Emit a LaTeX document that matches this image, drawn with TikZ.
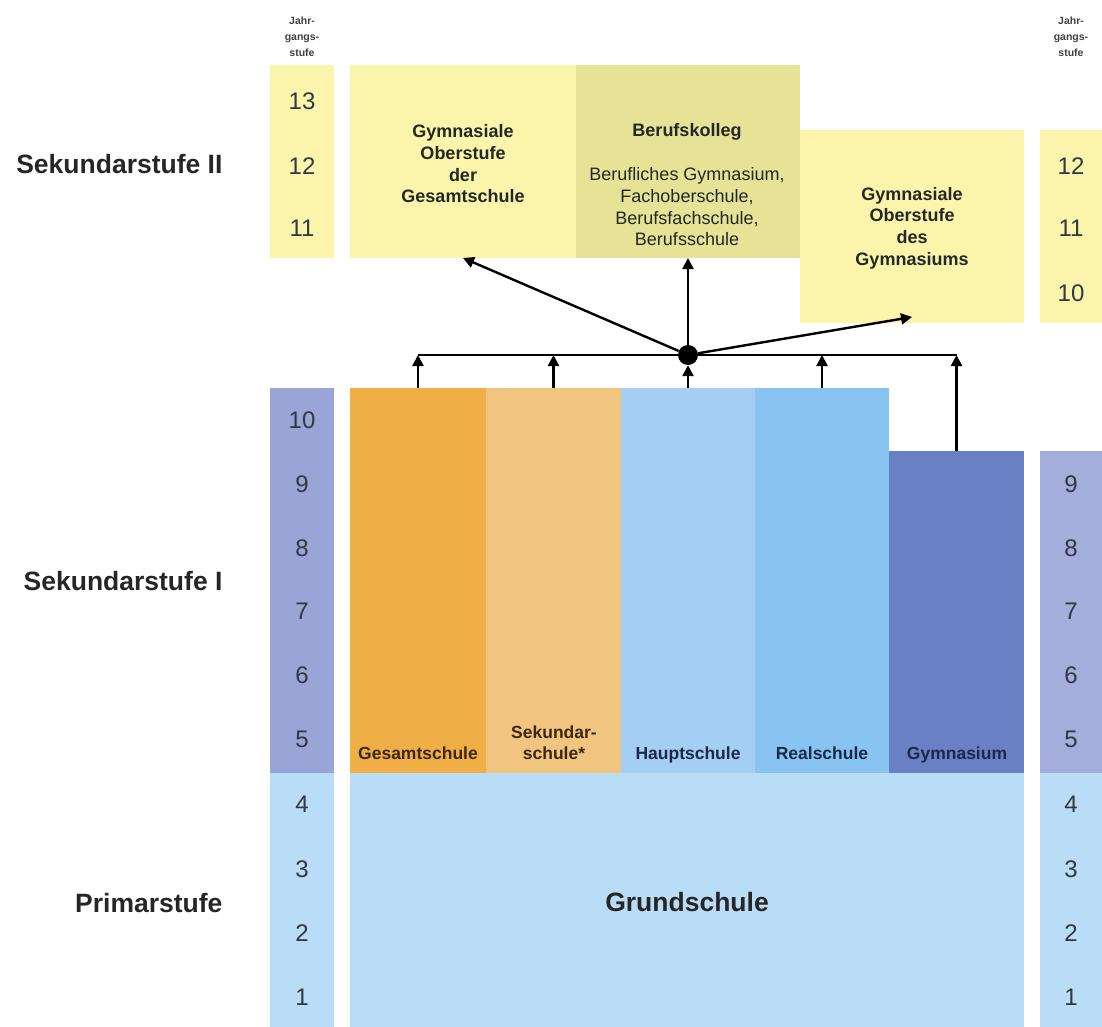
\documentclass[tikz,border=0pt]{standalone}
\usepackage{fontspec}
\setmainfont{Liberation Sans}
\usetikzlibrary{arrows.meta,positioning}

\definecolor{ober}{RGB}{250,245,170}
\definecolor{kolleg}{RGB}{230,226,150}
\definecolor{mittel}{RGB}{155,164,214}
\definecolor{primar}{RGB}{185,221,247}
\definecolor{gesamtfarbe}{RGB}{240,174,70}
\definecolor{sekfarbe}{RGB}{241,196,128}
\definecolor{hauptfarbe}{RGB}{165,206,245}
\definecolor{realfarbe}{RGB}{136,195,242}
\definecolor{gymfarbe}{RGB}{106,128,196}
\definecolor{ziffer}{RGB}{50,55,70}
\definecolor{braun}{RGB}{60,40,15}
\definecolor{marine}{RGB}{25,40,75}

\begin{document}
\begin{tikzpicture}[x=1pt,y=-1pt,
    feld/.style={anchor=north west, inner sep=0pt, outer sep=0pt},
    zahl/.style={font=\fontsize{24}{24}\selectfont, text=ziffer},
    stufe/.style={font=\bfseries\fontsize{26.5}{30}\selectfont, anchor=east, text=black!85},
    jahr/.style={font=\bfseries\fontsize{10.5}{16}\selectfont, align=center, text=black!75},
    schule/.style={font=\bfseries\fontsize{18}{21.7}\selectfont, align=center, text=black!85},
    liste/.style={font=\fontsize{18}{21.7}\selectfont, align=center, text=black!85},
    unten/.style={font=\bfseries\fontsize{17.5}{21}\selectfont, align=center, anchor=base},
    pfeil/.style={-{Triangle[length=11pt,width=11pt]}, line width=2.4pt},
]
\useasboundingbox (0,0) rectangle (1102,1027);

% Jahrgangsstufen-Spalten
\node[feld, fill=ober, minimum width=64, minimum height=193] (olinks) at (270,65) {};
\node[feld, fill=mittel, minimum width=64, minimum height=385] (mlinks) at (270,388) {};
\node[feld, fill=primar, minimum width=64, minimum height=254] (plinks) at (270,773) {};
\node[feld, fill=ober, minimum width=62, minimum height=193] (orechts) at (1040,130) {};
\node[feld, fill=mittel!90!white, minimum width=62, minimum height=322] (mrechts) at (1040,451) {};
\node[feld, fill=primar, minimum width=62, minimum height=254] (prechts) at (1040,773) {};

\node[jahr] (jlinks) at (302,37) {Jahr-\\gangs-\\stufe};
\node[jahr] (jrechts) at (1071,37) {Jahr-\\gangs-\\stufe};

\foreach \n/\y in {13/101,12/166,11/228}
  \node[zahl] (l\n) at (302,\y) {\n};
\foreach \n/\y in {12/166,11/228,10/293}
  \node[zahl] (r\n) at (1071,\y) {\n};
\foreach \n/\y in {10/420,9/484,8/548,7/611,6/675,5/739,4/804,3/869,2/933,1/997}
  \node[zahl] (lz\n) at (302,\y) {\n};
\foreach \n/\y in {9/484,8/548,7/611,6/675,5/739,4/804,3/869,2/933,1/997}
  \node[zahl] (rz\n) at (1071,\y) {\n};

% Stufen
\node[stufe] (sek2) at (226,164) {Sekundarstufe II};
\node[stufe] (sek1) at (226,581) {Sekundarstufe I};
\node[stufe] (prim) at (226,903) {Primarstufe};

% Oberstufe
\node[feld, fill=ober, minimum width=226, minimum height=193] (gog) at (350,65) {};
\node[feld, fill=kolleg, minimum width=224, minimum height=193] (bk) at (576,65) {};
\node[feld, fill=ober, minimum width=224, minimum height=193] (gyo) at (800,130) {};
\node[schule] at (463,164) {Gymnasiale\\Oberstufe\\der\\Gesamtschule};
\node[schule] at (687,132) {Berufskolleg};
\node[liste] at (687,207) {Berufliches Gymnasium,\\Fachoberschule,\\Berufsfachschule,\\Berufsschule};
\node[schule] at (912,228) {Gymnasiale\\Oberstufe\\des\\Gymnasiums};

% Sekundarstufe I
\node[feld, fill=gesamtfarbe, minimum width=136, minimum height=385] (gesamt) at (350,388) {};
\node[feld, fill=sekfarbe, minimum width=135, minimum height=385] (sekundar) at (486,388) {};
\node[feld, fill=hauptfarbe, minimum width=134, minimum height=385] (haupt) at (621,388) {};
\node[feld, fill=realfarbe, minimum width=134, minimum height=385] (real) at (755,388) {};
\node[feld, fill=gymfarbe, minimum width=135, minimum height=322] (gym) at (889,451) {};
\node[unten, text=braun] at (418,759) {Gesamtschule};
\node[unten, text=braun] at (554,759) {Sekundar-\\schule*};
\node[unten, text=marine] at (688,759) {Hauptschule};
\node[unten, text=marine] at (822,759) {Realschule};
\node[unten, text=marine] at (957,759) {Gymnasium};

% Primarstufe
\node[feld, fill=primar, minimum width=674, minimum height=254] (grund) at (350,773) {};
\node[font=\bfseries\fontsize{26.5}{30}\selectfont, text=black!85] at (687,902) {Grundschule};

% Pfeile
\node[circle, fill=black, minimum size=20, inner sep=0pt] (knoten) at (688,355) {};
\draw[line width=2.4pt] (gesamt.north |- knoten) -- (gym.north |- knoten);
\foreach \s in {gesamt,sekundar,real,gym}
  \draw[pfeil] (\s.north) -- (\s.north |- knoten);
\draw[pfeil] (haupt.north) -- (knoten);
\draw[pfeil] (knoten) -- (gog.south);
\draw[pfeil] (knoten) -- (bk.south);
\draw[pfeil] (knoten) -- ([yshift=6pt]gyo.south);
\end{tikzpicture}
\end{document}
